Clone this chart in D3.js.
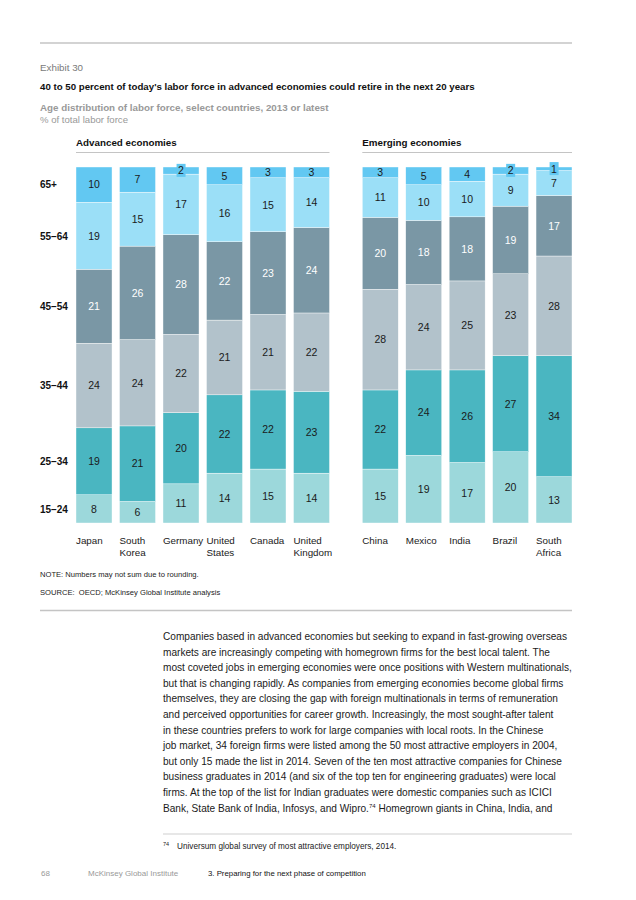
<!DOCTYPE html>
<html>
<head>
<meta charset="utf-8">
<script src="https://cdn.jsdelivr.net/npm/d3@7"></script>
<style>
  body { margin: 0; background: #fff; }
  svg { font-family: "Liberation Sans", Arial, sans-serif; }
</style>
</head>
<body>
<svg id="chart" width="636" height="900"></svg>
<script>
// age groups bottom -> top
const ageGroups = ["15–24", "25–34", "35–44", "45–54", "55–64", "65+"]
const ageColors = ["#9cd8db", "#4ab6c1", "#b2c2cb", "#7a97a5", "#9bdff7", "#62c8f2"]

const advanced = ["Japan", "South Korea", "Germany", "United States", "Canada", "United Kingdom"]
const advancedValues = [
  [8, 19, 24, 21, 19, 10],
  [6, 21, 24, 26, 15, 7],
  [11, 20, 22, 28, 17, 2],
  [14, 22, 21, 22, 16, 5],
  [15, 22, 21, 23, 15, 3],
  [14, 23, 22, 24, 14, 3]
]

const emerging = ["China", "Mexico", "India", "Brazil", "South Africa"]
const emergingValues = [
  [15, 22, 28, 20, 11, 3],
  [19, 24, 24, 18, 10, 5],
  [17, 26, 25, 18, 10, 4],
  [20, 27, 23, 19, 9, 2],
  [13, 34, 28, 17, 7, 1]
]

const bodyLines = [
  "Companies based in advanced economies but seeking to expand in fast-growing overseas",
  "markets are increasingly competing with homegrown firms for the best local talent. The",
  "most coveted jobs in emerging economies were once positions with Western multinationals,",
  "but that is changing rapidly. As companies from emerging economies become global firms",
  "themselves, they are closing the gap with foreign multinationals in terms of remuneration",
  "and perceived opportunities for career growth. Increasingly, the most sought-after talent",
  "in these countries prefers to work for large companies with local roots. In the Chinese",
  "job market, 34 foreign firms were listed among the 50 most attractive employers in 2004,",
  "but only 15 made the list in 2014. Seven of the ten most attractive companies for Chinese",
  "business graduates in 2014 (and six of the top ten for engineering graduates) were local",
  "firms. At the top of the list for Indian graduates were domestic companies such as ICICI",
  "Bank, State Bank of India, Infosys, and Wipro."
]

const svg = d3.select('#chart')
const barTop = 167, barBottom = 523

// header
svg.append('line').attr('x1', 40).attr('x2', 572).attr('y1', 43).attr('y2', 43)
  .attr('stroke', '#c4c4c4').attr('stroke-width', 1.5)
svg.append('text').attr('x', 40).attr('y', 71).attr('font-size', 9.8).attr('fill', '#7a7a7a').text('Exhibit 30')
svg.append('text').attr('x', 40).attr('y', 90).attr('font-size', 9.7).attr('font-weight', 'bold').attr('fill', '#111')
  .text("40 to 50 percent of today's labor force in advanced economies could retire in the next 20 years")
svg.append('text').attr('x', 40).attr('y', 111).attr('font-size', 9.8).attr('font-weight', 'bold').attr('fill', '#999')
  .text('Age distribution of labor force, select countries, 2013 or latest')
svg.append('text').attr('x', 40).attr('y', 122.5).attr('font-size', 9.6).attr('fill', '#999')
  .text('% of total labor force')

function panel(title, names, values, x0, x1) {
  svg.append('text').attr('x', x0).attr('y', 146).attr('font-size', 9.8).attr('font-weight', 'bold')
    .attr('fill', '#111').text(title)
  svg.append('line').attr('x1', x0).attr('x2', x1).attr('y1', 152.5).attr('y2', 152.5)
    .attr('stroke', '#c4c4c4').attr('stroke-width', 1)

  let x = d3.scaleBand().domain(names).range([x0, x1]).paddingInner(0.172).paddingOuter(0)

  names.forEach((name, i) => {
    let vals = values[i]
    let y = d3.scaleLinear().domain([0, d3.sum(vals)]).range([barBottom, barTop])
    let stacked = d3.cumsum(vals)
    let segs = vals.map((v, j) => ({ v: v, j: j, y0: stacked[j] - v, y1: stacked[j] }))
    let g = svg.append('g')

    g.selectAll('rect').data(segs).join('rect')
      .attr('x', x(name))
      .attr('width', x.bandwidth())
      .attr('y', d => y(d.y1))
      .attr('height', d => y(d.y0) - y(d.y1))
      .attr('fill', d => ageColors[d.j])
      .attr('stroke', '#fff').attr('stroke-width', 0.4)

    segs.forEach(d => {
      let cx = x(name) + x.bandwidth() / 2
      let cy = (y(d.y0) + y(d.y1)) / 2
      let t = g.append('text')
        .attr('x', cx).attr('y', cy + 3.8)
        .attr('text-anchor', 'middle').attr('font-size', 10.5)
        .attr('fill', d.j == 3 ? '#fff' : '#1a1a1a')
        .text(d.v)
      if (d.v <= 2) {
        let b = t.node().getBBox()
        g.insert('rect', function () { return t.node() })
          .attr('x', b.x - 1.5).attr('y', b.y - 0.5)
          .attr('width', b.width + 3).attr('height', b.height + 1)
          .attr('fill', ageColors[d.j])
      }
    })

    let words = name.split(' ')
    let lab = svg.append('text').attr('x', x(name)).attr('y', 544).attr('font-size', 9.8).attr('fill', '#1a1a1a')
    lab.append('tspan').attr('x', x(name)).text(words[0])
    if (words.length > 1)
      lab.append('tspan').attr('x', x(name)).attr('dy', 11.5).text(words.slice(1).join(' '))
  })
  return x
}

panel('Advanced economies', advanced, advancedValues, 76, 329.5)
panel('Emerging economies', emerging, emergingValues, 362.3, 572)

// row labels centred on Japan's segments
let jp = advancedValues[0]
let yJp = d3.scaleLinear().domain([0, d3.sum(jp)]).range([barBottom, barTop])
let jpCum = d3.cumsum(jp)
ageGroups.forEach((a, j) => {
  svg.append('text').attr('x', 40).attr('y', (yJp(jpCum[j] - jp[j]) + yJp(jpCum[j])) / 2 + 3.8)
    .attr('font-size', 10).attr('font-weight', 'bold').attr('fill', '#111').text(a)
})

// notes
svg.append('text').attr('x', 40).attr('y', 577).attr('font-size', 7.6).attr('fill', '#222')
  .text('NOTE: Numbers may not sum due to rounding.')
svg.append('text').attr('x', 40).attr('y', 595).attr('font-size', 7.6).attr('fill', '#222')
  .attr('xml:space', 'preserve').text('SOURCE:  OECD; McKinsey Global Institute analysis')
svg.append('line').attr('x1', 40).attr('x2', 572).attr('y1', 610.5).attr('y2', 610.5)
  .attr('stroke', '#c4c4c4').attr('stroke-width', 1.5)

// body text
let body = svg.append('g').attr('font-size', 10.1).attr('fill', '#1a1a1a')
bodyLines.forEach((l, i) => {
  let t = body.append('text').attr('x', 163).attr('y', 640 + i * 15.6).text(l)
  if (i == bodyLines.length - 1) {
    t.append('tspan').attr('font-size', 6).attr('dy', -4).text('74')
    t.append('tspan').attr('dy', 4).text(' Homegrown giants in China, India, and')
  }
})

// footnote
svg.append('line').attr('x1', 163).attr('x2', 572).attr('y1', 834).attr('y2', 834)
  .attr('stroke', '#cfcfcf').attr('stroke-width', 1)
svg.append('text').attr('x', 163).attr('y', 846).attr('font-size', 5.5).attr('fill', '#222').text('74')
svg.append('text').attr('x', 177).attr('y', 849).attr('font-size', 8.2).attr('fill', '#222')
  .text('Universum global survey of most attractive employers, 2014.')

// footer
svg.append('text').attr('x', 41).attr('y', 876).attr('font-size', 8).attr('fill', '#999').text('68')
svg.append('text').attr('x', 88).attr('y', 876).attr('font-size', 8).attr('fill', '#999').text('McKinsey Global Institute')
svg.append('text').attr('x', 208).attr('y', 876).attr('font-size', 7.8).attr('fill', '#111')
  .text('3. Preparing for the next phase of competition')
</script>
</body>
</html>
